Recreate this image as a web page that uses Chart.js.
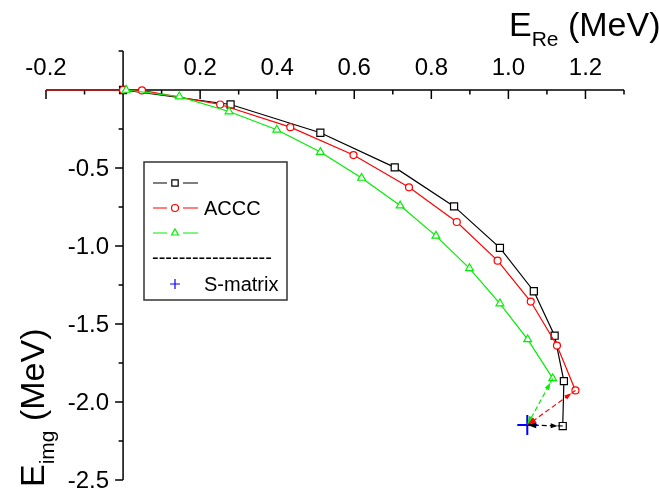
<!DOCTYPE html>
<html>
<head>
<meta charset="utf-8">
<script src="https://cdn.jsdelivr.net/npm/chart.js@4/dist/chart.umd.min.js"></script>
<style>
  html, body { margin: 0; padding: 0; background: #fff; }
  #wrap { width: 659px; height: 492px; }
</style>
</head>
<body>
<div id="wrap"><canvas id="chart" width="659" height="492"></canvas></div>
<script>
// resonance trajectories in the complex energy plane (MeV)
const blackRe = [0.0, 0.279, 0.512, 0.705, 0.859, 0.978, 1.066, 1.120, 1.144, 1.141];
const blackIm = [0.0, -0.093, -0.274, -0.496, -0.746, -1.012, -1.290, -1.575, -1.866, -2.154];

const accRe = [-0.3, 0.0, 0.049, 0.252, 0.434, 0.598, 0.742, 0.866, 0.972, 1.058, 1.126, 1.174];
const accIm = [0.0, 0.0, -0.003, -0.093, -0.238, -0.417, -0.624, -0.846, -1.094, -1.356, -1.638, -1.926];

const greenRe = [0.008, 0.146, 0.275, 0.399, 0.512, 0.619, 0.719, 0.812, 0.899, 0.978, 1.050, 1.115];
const greenIm = [0.0, -0.042, -0.138, -0.255, -0.398, -0.564, -0.741, -0.935, -1.143, -1.369, -1.599, -1.849];

// S-matrix pole
const sMatrixRe = [1.049];
const sMatrixIm = [-2.148];

const xTicks = [-0.2, 0.2, 0.4, 0.6, 0.8, 1.0, 1.2];
const xTickLabels = ['-0.2', '0.2', '0.4', '0.6', '0.8', '1.0', '1.2'];
const xMinor = [-0.1, 0.1, 0.3, 0.5, 0.7, 0.9, 1.1, 1.3];
const yTicks = [-0.5, -1.0, -1.5, -2.0, -2.5];
const yTickLabels = ['-0.5', '-1.0', '-1.5', '-2.0', '-2.5'];
const yMinor = [0.25, -0.25, -0.75, -1.25, -1.75, -2.25];

const FONT = "'Liberation Sans', Arial, sans-serif";
const RED = '#ff0000', GREEN = '#00ee00', BLUE = '#0000ff';

function pts(re, im) {
  return re.map((v, i) => ({ x: v, y: im[i] }));
}
function lastPt(re, im) {
  return { x: re[re.length - 1], y: im[im.length - 1] };
}
const pole = { x: sMatrixRe[0], y: sMatrixIm[0] };

function curve(re, im, color, style, r) {
  return {
    data: pts(re, im),
    showLine: true,
    borderColor: color,
    borderWidth: 1.2,
    pointStyle: style,
    pointRadius: r,
    pointBackgroundColor: '#fff',
    pointBorderColor: color,
    pointBorderWidth: 1.2
  };
}
function extrapolation(from, color) {
  return {
    data: [from, pole],
    showLine: true,
    borderColor: color,
    borderWidth: 1.2,
    borderDash: [5, 3],
    pointRadius: 0,
    arrow: true
  };
}

// axes crossing at the origin, ticks and titles
const crossAxes = {
  id: 'crossAxes',
  beforeDatasetsDraw(chart) {
    const { ctx, chartArea: a, scales: { x, y } } = chart;
    const x0 = x.getPixelForValue(0), y0 = y.getPixelForValue(0);
    ctx.save();
    ctx.strokeStyle = '#000';
    ctx.lineWidth = 1.5;
    ctx.beginPath();
    ctx.moveTo(a.left, y0); ctx.lineTo(a.right, y0);
    ctx.moveTo(x0, a.top); ctx.lineTo(x0, a.bottom);
    xTicks.forEach(v => { const p = x.getPixelForValue(v); ctx.moveTo(p, y0); ctx.lineTo(p, y0 + 9); });
    xMinor.forEach(v => { const p = x.getPixelForValue(v); ctx.moveTo(p, y0); ctx.lineTo(p, y0 + 4.5); });
    yTicks.forEach(v => { const p = y.getPixelForValue(v); ctx.moveTo(x0, p); ctx.lineTo(x0 - 8, p); });
    yMinor.forEach(v => { const p = y.getPixelForValue(v); ctx.moveTo(x0, p); ctx.lineTo(x0 - 4.5, p); });
    ctx.stroke();

    ctx.fillStyle = '#000';
    ctx.font = '24px ' + FONT;
    ctx.textAlign = 'center';
    ctx.textBaseline = 'alphabetic';
    xTicks.forEach((v, i) => ctx.fillText(xTickLabels[i], x.getPixelForValue(v), y0 - 15));
    ctx.textAlign = 'right';
    ctx.textBaseline = 'middle';
    yTicks.forEach((v, i) => ctx.fillText(yTickLabels[i], x0 - 14, y.getPixelForValue(v) + 1));

    // axis titles with subscripts
    const drawTitle = (sub, x1, base) => {
      ctx.textAlign = 'left';
      ctx.textBaseline = 'alphabetic';
      ctx.font = '34px ' + FONT;
      ctx.fillText('E', x1, base);
      let cx = x1 + ctx.measureText('E').width;
      ctx.font = '21px ' + FONT;
      ctx.fillText(sub, cx, base + 10);
      cx += ctx.measureText(sub).width;
      ctx.font = '34px ' + FONT;
      ctx.fillText(' (MeV)', cx, base);
    };
    drawTitle('Re', 509, 36);
    ctx.translate(44, 487);
    ctx.rotate(-Math.PI / 2);
    drawTitle('img', 0, 0);
    ctx.restore();
  }
};

// arrowheads on both ends of the dashed extrapolations
const arrowHeads = {
  id: 'arrowHeads',
  afterDatasetsDraw(chart) {
    const { ctx, scales: { x, y } } = chart;
    chart.data.datasets.forEach(ds => {
      if (!ds.arrow) return;
      const p = ds.data.map(d => ({ x: x.getPixelForValue(d.x), y: y.getPixelForValue(d.y) }));
      const head = (tip, tail, len, half) => {
        const ang = Math.atan2(tip.y - tail.y, tip.x - tail.x);
        ctx.beginPath();
        ctx.moveTo(tip.x, tip.y);
        ctx.lineTo(tip.x - len * Math.cos(ang) + half * Math.sin(ang), tip.y - len * Math.sin(ang) - half * Math.cos(ang));
        ctx.lineTo(tip.x - len * Math.cos(ang) - half * Math.sin(ang), tip.y - len * Math.sin(ang) + half * Math.cos(ang));
        ctx.closePath();
        ctx.fill();
      };
      ctx.save();
      ctx.fillStyle = ds.borderColor;
      head(p[1], p[0], 9, 3);
      const dx = p[1].x - p[0].x, dy = p[1].y - p[0].y, d = Math.hypot(dx, dy);
      head({ x: p[0].x + dx / d * 5, y: p[0].y + dy / d * 5 }, p[1], 7, 2.5);
      ctx.restore();
    });
  }
};

// boxed legend inside the plot
const boxLegend = {
  id: 'boxLegend',
  afterDraw(chart) {
    const { ctx } = chart;
    const left = 144, top = 162, w = 143, h = 138;
    ctx.save();
    ctx.fillStyle = '#fff';
    ctx.fillRect(left, top, w, h);
    ctx.strokeStyle = '#333';
    ctx.lineWidth = 1.5;
    ctx.strokeRect(left, top, w, h);

    const rows = [
      { color: '#000', style: 'rect', r: 4.5, y: 183, label: '' },
      { color: RED, style: 'circle', r: 3.5, y: 208, label: 'ACCC' },
      { color: GREEN, style: 'triangle', r: 4, y: 233, label: '' }
    ];
    rows.forEach(row => {
      ctx.strokeStyle = row.color;
      ctx.lineWidth = 1.2;
      ctx.beginPath();
      ctx.moveTo(153, row.y); ctx.lineTo(167, row.y);
      ctx.moveTo(183, row.y); ctx.lineTo(198, row.y);
      ctx.stroke();
      ctx.fillStyle = '#fff';
      Chart.helpers.drawPoint(ctx, { pointStyle: row.style, radius: row.r, borderWidth: 1.2, rotation: 0 }, 175, row.y);
      if (row.label) {
        ctx.fillStyle = '#000';
        ctx.font = '20px ' + FONT;
        ctx.textBaseline = 'middle';
        ctx.fillText(row.label, 204, row.y + 1);
      }
    });
    ctx.fillStyle = '#000';
    ctx.font = '20px ' + FONT;
    ctx.textBaseline = 'middle';
    ctx.fillText('------------------', 152, 258);
    ctx.strokeStyle = BLUE;
    ctx.lineWidth = 1.2;
    Chart.helpers.drawPoint(ctx, { pointStyle: 'cross', radius: 5, borderWidth: 1.2, rotation: 0 }, 175, 284);
    ctx.fillText('S-matrix', 204, 285);
    ctx.restore();
  }
};

// lower dataset index is drawn on top
new Chart(document.getElementById('chart'), {
  type: 'scatter',
  data: {
    datasets: [
      {
        data: pts(sMatrixRe, sMatrixIm),
        pointStyle: 'cross',
        pointRadius: 10,
        pointBorderColor: BLUE,
        pointBorderWidth: 2,
        showLine: false
      },
      extrapolation(lastPt(greenRe, greenIm), GREEN),
      extrapolation(lastPt(accRe, accIm), RED),
      extrapolation(lastPt(blackRe, blackIm), '#000'),
      curve(greenRe, greenIm, GREEN, 'triangle', 4.5),
      curve(accRe, accIm, RED, 'circle', 3.5),
      curve(blackRe, blackIm, '#000', 'rect', 5)
    ]
  },
  options: {
    responsive: false,
    animation: false,
    layout: { padding: { left: 46, right: 35, top: 51, bottom: 11 } },
    plugins: { legend: { display: false }, tooltip: { enabled: false } },
    scales: {
      x: { type: 'linear', min: -0.2, max: 1.3, display: false },
      y: { type: 'linear', min: -2.5, max: 0.25, display: false }
    }
  },
  plugins: [crossAxes, arrowHeads, boxLegend]
});
</script>
</body>
</html>
